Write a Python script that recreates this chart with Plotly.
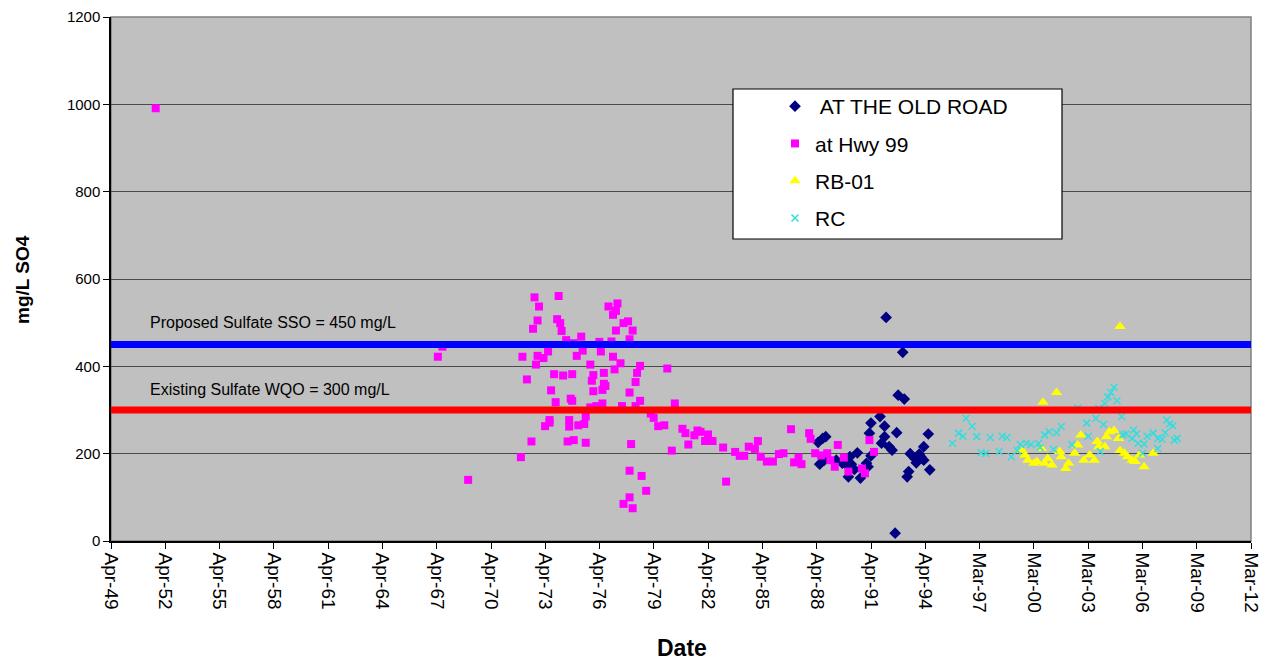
import pandas as pd
import plotly.graph_objects as go

# ---------------- data ----------------
TICK_LABELS = ["Apr-49", "Apr-52", "Apr-55", "Apr-58", "Apr-61", "Apr-64", "Apr-67",
               "Apr-70", "Apr-73", "Apr-76", "Apr-79", "Apr-82", "Apr-85", "Apr-88",
               "Apr-91", "Apr-94", "Mar-97", "Mar-00", "Mar-03", "Mar-06", "Mar-09", "Mar-12"]
TICK_START = "1949-04-12"
TICK_STEP_DAYS = 1095

SSO_VALUE = 450
WQO_VALUE = 300

old_road_dates = ["1992-02", "1993-01", "1992-10", "1993-02", "1991-10", "1991-04", "1992-01",
                  "1992-09", "1991-03", "1994-06", "1992-01", "1988-10", "1988-08", "1988-05",
                  "1991-11", "1992-04", "1992-06", "1994-03", "1990-07", "1993-06", "1993-12",
                  "1994-01", "1993-09", "1993-10", "1994-03", "1991-04", "1989-05", "1988-06",
                  "1988-09", "1989-09", "1989-12", "1990-03", "1990-02", "1990-05", "1990-01",
                  "1990-09", "1991-01", "1991-02", "1993-05", "1993-04", "1994-07", "1992-08"]
old_road_vals = [512, 432, 334, 325, 285, 270, 263, 248, 247, 245, 239, 239, 235, 226,
                 224, 216, 208, 216, 202, 200, 199, 193, 189, 179, 185, 195, 185, 176,
                 185, 178, 174, 176, 193, 164, 147, 144, 178, 170, 159, 147, 163, 18]

hwy99_dates = ["1951-10", "1967-05", "1967-08", "1969-01", "1972-01", "1971-12", "1972-04",
               "1972-07", "1972-09", "1972-12", "1972-11", "1972-08", "1972-10", "1972-11",
               "1973-03", "1973-06", "1973-04", "1973-07", "1973-07", "1973-08", "1973-11",
               "1973-10", "1974-01", "1973-12", "1974-02", "1974-03", "1974-04", "1974-06",
               "1974-07", "1974-11", "1974-08", "1974-08", "1974-09", "1974-10", "1974-10",
               "1974-11", "1975-01", "1975-04", "1975-05", "1975-02", "1975-06", "1975-07",
               "1975-07", "1975-10", "1975-11", "1975-12", "1975-12", "1975-10", "1976-02",
               "1976-04", "1976-05", "1976-07", "1976-07", "1976-08", "1976-06", "1976-06",
               "1976-10", "1977-01", "1977-04", "1977-03", "1977-03", "1976-12", "1977-01",
               "1977-02", "1977-06", "1977-08", "1977-11", "1978-02", "1977-12", "1977-12",
               "1977-07", "1978-04", "1978-07", "1978-05", "1978-04", "1978-07", "1978-01",
               "1977-12", "1978-08", "1978-11", "1977-12", "1977-08", "1978-02", "1979-02",
               "1979-04", "1979-07", "1979-11", "1980-01", "1980-06", "1980-04", "1980-11",
               "1981-01", "1981-03", "1981-07", "1981-09", "1981-11", "1982-02", "1982-04",
               "1982-07", "1983-02", "1983-04", "1983-10", "1984-01", "1984-04", "1984-07",
               "1985-01", "1984-11", "1985-03", "1985-07", "1985-11", "1986-03", "1986-06",
               "1986-11", "1987-01", "1987-04", "1987-06", "1987-11", "1987-12", "1988-03",
               "1988-07", "1988-11", "1989-01", "1989-04", "1989-06", "1989-10", "1990-01",
               "1990-10", "1990-12", "1991-03", "1991-06"]
hwy99_vals = [991, 422, 445, 140, 422, 192, 370,
              228, 558, 537, 505, 486, 404, 424,
              419, 434, 263, 271, 277, 345, 318,
              382, 561, 508, 499, 481, 379, 460,
              228, 231, 262, 277, 326, 321, 382,
              453, 424, 468, 436, 265, 268, 285,
              225, 404, 367, 380, 343, 306, 309,
              456, 434, 385, 360, 355, 346, 315,
              537, 518, 544, 527, 482, 457, 422,
              393, 407, 499, 503, 482, 462, 340,
              309, 309, 401, 385, 364, 321, 222,
              161, 149, 115, 100, 85, 75, 292,
              282, 263, 265, 395, 315, 207, 257,
              247, 221, 242, 253, 250, 229, 244,
              229, 214, 136, 204, 195, 195, 216,
              229, 211, 193, 182, 182, 199, 201,
              256, 180, 191, 176, 247, 234, 201,
              196, 201, 185, 170, 220, 191, 159,
              166, 155, 231, 204]

rb01_dates = ["2005-01", "2001-07", "2000-10", "2002-11", "2003-10", "2004-06", "2004-09",
              "2004-04", "2004-12", "2000-09", "1999-10", "1999-12", "2000-04", "2000-06",
              "2000-11", "2001-01", "2001-04", "2001-09", "2001-10", "2002-01", "2002-03",
              "2002-07", "2002-09", "2003-01", "2003-05", "2003-08", "2003-11", "2004-03",
              "2005-01", "2005-04", "2005-06", "2005-09", "2005-11", "2006-02", "2006-05",
              "2006-11", "1999-08"]
rb01_vals = [491, 340, 318, 243, 228, 250, 253,
             239, 235, 212, 197, 185, 178, 182,
             178, 189, 174, 205, 193, 166, 178,
             201, 220, 185, 197, 185, 216, 216,
             207, 201, 193, 185, 182, 197, 170,
             201, 208]

rc_dates = ["1996-07", "1996-11", "1996-02", "1996-05", "1995-10", "1997-02", "1997-11",
            "1998-07", "1998-10", "1997-05", "1997-08", "1998-05", "1999-01", "1999-05",
            "1999-07", "1999-11", "2000-02", "2000-07", "2000-08", "2000-11", "2001-02",
            "2001-07", "2001-10", "2001-05", "2002-05", "2002-09", "2003-03", "2003-04",
            "2003-09", "2004-02", "2003-12", "2003-11", "2004-03", "2004-05", "2004-07",
            "2004-09", "2004-11", "2005-02", "2005-03", "2005-05", "2005-10", "2005-12",
            "2005-09", "2006-01", "2006-05", "2006-07", "2006-11", "2007-02", "2007-05",
            "2007-07", "2007-08", "2007-10", "2007-12", "2008-01", "2008-03", "2007-02",
            "2006-04"]
rc_vals = [281, 263, 247, 240, 224, 239, 237,
           240, 237, 202, 201, 205, 193, 207,
           221, 224, 221, 224, 214, 243, 250,
           248, 262, 210, 221, 305, 270, 240,
           281, 267, 205, 304, 315, 330, 340,
           352, 321, 285, 243, 245, 254, 245,
           235, 224, 222, 240, 247, 235, 233,
           248, 277, 268, 264, 231, 235, 212,
           201]

# ---------------- figure ----------------
tick_dates = pd.date_range(TICK_START, periods=len(TICK_LABELS), freq=f"{TICK_STEP_DAYS}D")

FONT = "Liberation Sans, Arial, sans-serif"
W, H = 1263, 663
L, R, T, B = 111, 12, 17, 122
PW, PH = W - L - R, H - T - B


def px(x):
    return (x - L) / PW


def py(y):
    return (H - B - y) / PH


fig = go.Figure()

fig.add_trace(go.Scatter(x=pd.to_datetime(old_road_dates), y=old_road_vals, mode="markers",
                         name=" AT THE OLD ROAD", legendgroup="a",
                         marker=dict(symbol="diamond", size=9, color="#000080")))
fig.add_trace(go.Scatter(x=pd.to_datetime(hwy99_dates), y=hwy99_vals, mode="markers",
                         name="at Hwy 99", legendgroup="b",
                         marker=dict(symbol="square", size=8, color="#FF00FF")))
fig.add_trace(go.Scatter(x=pd.to_datetime(rb01_dates), y=rb01_vals, mode="markers",
                         name="RB-01", legendgroup="c",
                         marker=dict(symbol="triangle-up", size=10, color="#FFFF00")))
fig.add_trace(go.Scatter(x=pd.to_datetime(rc_dates), y=rc_vals, mode="markers",
                         name="RC", legendgroup="d",
                         marker=dict(symbol="x-thin", size=7, color="#33DDDD",
                                     line=dict(width=1.5, color="#33DDDD"))))

# threshold lines
fig.add_shape(type="line", xref="paper", x0=0, x1=1, yref="y", y0=SSO_VALUE, y1=SSO_VALUE,
              line=dict(color="#0000FF", width=7), layer="above")
fig.add_shape(type="line", xref="paper", x0=0, x1=1, yref="y", y0=WQO_VALUE, y1=WQO_VALUE,
              line=dict(color="#FF0000", width=7), layer="above")

# plot border (grey top/right)
fig.add_shape(type="rect", xref="paper", yref="paper", x0=0, x1=1, y0=0, y1=1,
              line=dict(color="#808080", width=1.5), layer="below")

# legend box
fig.add_shape(type="rect", xref="paper", yref="paper",
              x0=px(733), x1=px(1062), y0=py(239), y1=py(89),
              fillcolor="white", line=dict(color="black", width=1.2), layer="above")

fig.add_annotation(text="Proposed Sulfate SSO = 450 mg/L", xref="paper", yref="y",
                   x=px(148), y=SSO_VALUE, yshift=22, xanchor="left", yanchor="middle",
                   showarrow=False, font=dict(family=FONT, size=16, color="black"))
fig.add_annotation(text="Existing Sulfate WQO = 300 mg/L", xref="paper", yref="y",
                   x=px(148), y=WQO_VALUE, yshift=21, xanchor="left", yanchor="middle",
                   showarrow=False, font=dict(family=FONT, size=16, color="black"))

fig.add_annotation(text="<b>mg/L SO4</b>", xref="paper", yref="paper",
                   x=px(22), y=py(279), textangle=-90,
                   xanchor="center", yanchor="middle", showarrow=False,
                   font=dict(family=FONT, size=19, color="black"))
fig.add_annotation(text="<b>Date</b>", xref="paper", yref="paper",
                   x=px(682), y=py(648),
                   xanchor="center", yanchor="middle", showarrow=False,
                   font=dict(family=FONT, size=23, color="black"))

fig.update_layout(
    width=W, height=H, autosize=False,
    margin=dict(l=L, r=R, t=T, b=B, autoexpand=False),
    paper_bgcolor="white", plot_bgcolor="#C0C0C0",
    font=dict(family=FONT, color="black"),
    showlegend=True,
    legend=dict(x=px(775), y=py(86), xanchor="left", yanchor="top",
                bgcolor="rgba(0,0,0,0)", borderwidth=0,
                font=dict(family=FONT, size=21, color="black"),
                traceorder="grouped", tracegroupgap=7, itemsizing="trace"),
    xaxis=dict(type="date", range=[tick_dates[0], tick_dates[-1]], automargin=False,
               tickmode="array", tickvals=list(tick_dates), ticktext=TICK_LABELS,
               tickangle=90, ticks="outside", ticklen=6, tickcolor="black",
               showgrid=False, zeroline=False, showline=True, linecolor="black", linewidth=1.5,
               tickfont=dict(family=FONT, size=19, color="black")),
    yaxis=dict(range=[0, 1200], tickmode="linear", tick0=0, dtick=200, automargin=False,
               ticks="outside", ticklen=6, tickcolor="black",
               showgrid=True, gridcolor="#4a4a4a", gridwidth=1.3, zeroline=False,
               showline=True, linecolor="black", linewidth=1.5,
               tickfont=dict(family=FONT, size=15, color="black")),
)

fig.write_html("out.html")
